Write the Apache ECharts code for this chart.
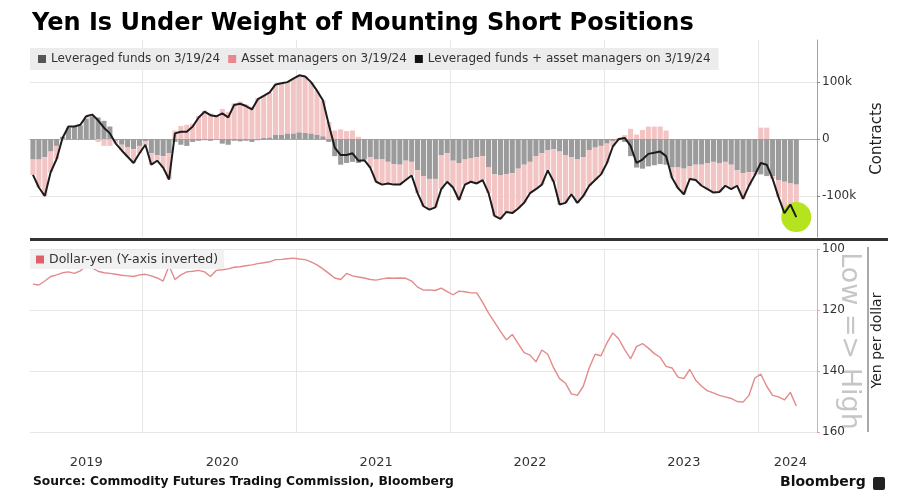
<!DOCTYPE html>
<html>
<head>
<meta charset="utf-8">
<script src="https://cdn.jsdelivr.net/npm/echarts@6/dist/echarts.min.js"></script>
<style>
html,body{margin:0;padding:0;background:#ffffff;}
#chart{width:919px;height:502px;}
</style>
</head>
<body>
<div id="chart"></div>
<script>
// ---- data (thousands of contracts, biweekly from startDate) ----
const startDate = '2019-04-09';
const axisEndDate = '2024-04-30';
const stepDays = 14;

const leveragedFunds = [
  -36,-36,-32,-22,-12,4,20,22,24,36,
  40,38,32,22,-3,-10,-14,-18,-12,-4,
  -25,-28,-30,-25,-5,-10,-12,-5,-3,-2,
  -3,0,-8,-10,-3,-4,-3,-5,-2,2,
  3,8,8,10,10,12,11,10,8,5,
  -5,-30,-45,-42,-40,-42,-36,-32,-36,-35,
  -40,-44,-45,-38,-40,-55,-65,-70,-70,-28,
  -25,-38,-42,-36,-34,-32,-30,-50,-62,-64,
  -62,-60,-52,-45,-40,-30,-25,-20,-18,-22,
  -28,-32,-35,-32,-20,-15,-12,-8,-4,-2,
  -5,-30,-50,-52,-48,-46,-44,-45,-50,-50,
  -52,-48,-45,-45,-42,-40,-42,-40,-45,-55,
  -60,-58,-58,-62,-65,-65,-72,-75,-78,-80
];
const assetManagers = [
  -27,-49,-68,-36,-23,-2,2,0,1,4,
  3,-5,-12,-12,-5,-10,-17,-24,-13,-6,
  -20,-10,-20,-46,15,23,25,27,41,50,
  45,40,53,48,63,66,61,57,72,74,
  79,88,90,90,96,100,99,90,77,63,
  30,15,17,14,15,4,-1,-18,-39,-45,
  -38,-36,-35,-34,-24,-40,-53,-54,-50,-60,
  -50,-47,-65,-44,-41,-46,-42,-45,-73,-76,
  -66,-70,-70,-67,-55,-58,-55,-35,-57,-93,
  -84,-65,-77,-68,-62,-57,-50,-34,-9,2,
  7,18,8,16,22,22,22,15,-18,-36,
  -45,-22,-27,-37,-46,-54,-51,-42,-43,-27,
  -45,-24,-5,20,20,-5,-30,-55,-37,-57
];
const netPositions = [
  -63,-85,-100,-58,-35,2,22,22,25,40,
  43,33,20,10,-8,-20,-31,-42,-25,-10,
  -45,-38,-50,-71,10,13,13,22,38,48,
  42,40,45,38,60,62,58,52,70,76,
  82,96,98,100,106,112,110,100,85,68,
  25,-15,-28,-28,-25,-38,-37,-50,-75,-80,
  -78,-80,-80,-72,-64,-95,-118,-124,-120,-88,
  -75,-85,-107,-80,-75,-78,-72,-95,-135,-140,
  -128,-130,-122,-112,-95,-88,-80,-55,-75,-115,
  -112,-97,-112,-100,-82,-72,-62,-42,-13,0,
  2,-12,-42,-36,-26,-24,-22,-30,-68,-86,
  -97,-70,-72,-82,-88,-94,-93,-82,-88,-82,
  -105,-82,-63,-42,-45,-70,-102,-130,-115,-137
];
const dollarYen = [
  111.5,111.8,110.5,109,108.5,107.8,107.5,108,107.2,105.3,
  106.2,107.3,107.8,108,108.3,108.6,108.8,109,108.5,108.3,
  108.8,109.5,110.5,105.5,110,108.5,107.5,107.3,107,107.5,
  109,107,106.8,106.5,106,105.8,105.5,105.2,104.8,104.5,
  104.2,103.5,103.4,103.2,103,103.3,103.5,104.2,105.2,106.5,
  108,109.5,110,108,108.8,109.2,109.5,110,110.2,109.8,
  109.5,109.6,109.5,109.6,110.5,112.5,113.5,113.4,113.6,112.8,
  114,115,113.8,114,114.4,114.4,117.5,121,124,127,
  129.8,128,131,134,134.8,137,133.1,134.5,139,142.5,
  144,147.5,148,145,139,134.5,135,130.8,127.5,129.5,
  133,136,132,131,132.5,134.3,135.5,138.5,139,142,
  142.5,139.5,143,145,146.5,147.2,148,148.5,149,150,
  150.2,148,142.3,141,145,148,148.5,149.5,147,151.5
];
const contractTicks = [-100, 0, 100];
const yenTicks = [100, 120, 140, 160];

// ---- categories (dates) ----
const DAY = 86400000;
const categories = [];
for (let t = Date.parse(startDate + 'T00:00:00Z'); t <= Date.parse(axisEndDate + 'T00:00:00Z'); t += stepDays * DAY) {
  categories.push(new Date(t).toISOString().slice(0, 10));
}
const yearOf = s => +s.slice(0, 4);
// year boundary: band that contains Jan 1
const boundaryIdx = new Set();
categories.forEach((c, i) => {
  if (i === 0) return;
  const a = new Date(Date.parse(c + 'T00:00:00Z') + 7 * DAY).getUTCFullYear();
  const b = new Date(Date.parse(categories[i - 1] + 'T00:00:00Z') + 7 * DAY).getUTCFullYear();
  if (a !== b) boundaryIdx.add(i);
});
// year labels centred in each year's visible span
const labelIdx = new Map();
const years = [...new Set(categories.map(yearOf))];
years.forEach(y => {
  const idxs = categories.map((c, i) => yearOf(c) === y ? i : -1).filter(i => i >= 0);
  labelIdx.set(Math.floor((idxs[0] + idxs[idxs.length - 1]) / 2), String(y));
});

const FONT = 'DejaVu Sans';
const lastI = netPositions.length - 1;

const chart = echarts.init(document.getElementById('chart'), null, {renderer: 'canvas'});
chart.setOption({
  animation: false,
  backgroundColor: '#ffffff',
  textStyle: {fontFamily: FONT},
  title: {
    text: 'Yen Is Under Weight of Mounting Short Positions',
    left: 27, top: 7,
    textStyle: {fontFamily: FONT, fontSize: 24, fontWeight: 'bold', color: '#000'}
  },
  legend: [{
    left: 30, top: 48,
    padding: [5, 8, 5, 8],
    backgroundColor: '#ececec',
    itemWidth: 8, itemHeight: 8, itemGap: 8,
    icon: 'rect',
    textStyle: {fontFamily: FONT, fontSize: 12, color: '#333'},
    data: [
      {name: 'Leveraged funds on 3/19/24', itemStyle: {color: '#555555'}},
      {name: 'Asset managers on 3/19/24', itemStyle: {color: '#e8878d'}},
      {name: 'Leveraged funds + asset managers on 3/19/24', itemStyle: {color: '#111111'}}
    ]
  }, {
    left: 30, top: 250,
    padding: [3, 6, 3, 6],
    backgroundColor: '#f1f1f1',
    itemWidth: 8, itemHeight: 8,
    icon: 'rect',
    textStyle: {fontFamily: FONT, fontSize: 12.5, color: '#333'},
    data: [{name: 'Dollar-yen (Y-axis inverted)', itemStyle: {color: '#e0606a'}}]
  }],
  grid: [
    {left: 30, right: 102, top: 40, height: 197, outerBoundsMode: 'none'},
    {left: 30, right: 102, top: 249, height: 183, outerBoundsMode: 'none'}
  ],
  xAxis: [{
    gridIndex: 0, type: 'category', data: categories, boundaryGap: true,
    axisLine: {show: true, onZero: true, lineStyle: {color: '#a8a8a8', width: 1}},
    axisTick: {show: false}, axisLabel: {show: false},
    splitLine: {show: true, interval: i => boundaryIdx.has(i), lineStyle: {color: '#e6e6e6'}}
  }, {
    gridIndex: 1, type: 'category', data: categories, boundaryGap: true,
    axisLine: {show: false}, axisTick: {show: false},
    axisLabel: {
      interval: i => labelIdx.has(i),
      formatter: (v, i) => labelIdx.get(i) || '',
      color: '#333', fontSize: 13, margin: 24, fontFamily: FONT
    },
    splitLine: {show: true, interval: i => boundaryIdx.has(i), lineStyle: {color: '#e6e6e6'}}
  }],
  yAxis: [{
    gridIndex: 0, type: 'value', position: 'right', min: -172, max: 174,
    axisLine: {show: true, lineStyle: {color: '#a0a0a0'}},
    axisTick: {show: true, customValues: contractTicks, length: 3, lineStyle: {color: '#888'}},
    axisLabel: {customValues: contractTicks, formatter: v => v === 0 ? '0' : v + 'k', color: '#333', fontSize: 12, margin: 5},
    splitLine: {show: true, lineStyle: {color: '#e6e6e6'}},
    name: 'Contracts', nameLocation: 'middle', nameGap: 53,
    nameTextStyle: {fontSize: 15, color: '#222', fontFamily: FONT}
  }, {
    gridIndex: 1, type: 'value', position: 'right', inverse: true, min: 100, max: 160, interval: 20,
    axisLine: {show: true, lineStyle: {color: '#e8a5a5'}},
    axisTick: {show: true, length: 3, lineStyle: {color: '#e8a5a5'}},
    axisLabel: {color: '#333', fontSize: 12, margin: 5},
    splitLine: {show: true, lineStyle: {color: '#e6e6e6'}},
    name: 'Yen per dollar', nameLocation: 'middle', nameGap: 53,
    nameTextStyle: {fontSize: 14, color: '#222', fontFamily: FONT}
  }],
  series: [{
    name: 'Leveraged funds on 3/19/24', type: 'bar', stack: 'cot',
    xAxisIndex: 0, yAxisIndex: 0, data: leveragedFunds,
    barCategoryGap: '14%',
    itemStyle: {color: '#9b9b9b'},
    markPoint: {
      symbol: 'circle', symbolSize: 30, silent: true,
      itemStyle: {color: '#b5e31e'}, label: {show: false},
      data: [{coord: [categories[lastI], netPositions[lastI]]}]
    }
  }, {
    name: 'Asset managers on 3/19/24', type: 'bar', stack: 'cot',
    xAxisIndex: 0, yAxisIndex: 0, data: assetManagers,
    barCategoryGap: '14%',
    itemStyle: {color: '#f3c4c4'}
  }, {
    name: 'Leveraged funds + asset managers on 3/19/24', type: 'line',
    xAxisIndex: 0, yAxisIndex: 0, data: netPositions,
    symbol: 'none', z: 10,
    lineStyle: {color: '#1c1c1c', width: 2},
    itemStyle: {color: '#111'}
  }, {
    name: 'Dollar-yen (Y-axis inverted)', type: 'line',
    xAxisIndex: 1, yAxisIndex: 1, data: dollarYen,
    symbol: 'none',
    lineStyle: {color: '#e38a8a', width: 1.4},
    itemStyle: {color: '#e0606a'}
  }],
  graphic: [
    {type: 'rect', shape: {x: 30, y: 238, width: 858, height: 3}, style: {fill: '#333'}},
    {type: 'line', shape: {x1: 868, y1: 247, x2: 868, y2: 432}, style: {stroke: '#555', lineWidth: 1}},
    {type: 'text', x: 849, y: 341, rotation: -Math.PI / 2,
     style: {text: 'Low => High', font: '27px "DejaVu Sans"', fill: '#c6c6c6', align: 'center', verticalAlign: 'middle'}},
    {type: 'text', left: 33, top: 476,
     style: {text: 'Source: Commodity Futures Trading Commission, Bloomberg', font: 'bold 12.3px "DejaVu Sans"', fill: '#111'}},
    {type: 'text', left: 780, top: 475,
     style: {text: 'Bloomberg', font: 'bold 14px "DejaVu Sans"', fill: '#111'}},
    {type: 'rect', shape: {x: 873, y: 477, width: 12, height: 13, r: 2}, style: {fill: '#222'}}
  ]
});
</script>
</body>
</html>
